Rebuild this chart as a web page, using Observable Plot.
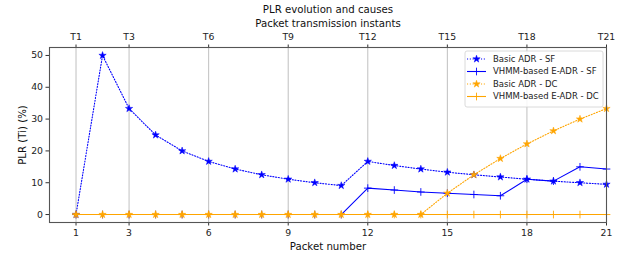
<!DOCTYPE html>
<html>
<head>
<meta charset="utf-8">
<script src="https://cdn.jsdelivr.net/npm/d3@7"></script>
<script src="https://cdn.jsdelivr.net/npm/@observablehq/plot@0.6"></script>
<style>
  html, body { margin: 0; padding: 0; background: #fff; }
  #chart svg { display: block; }
</style>
</head>
<body>
<div id="chart"></div>
<script>
// ---- data ----
const packets = [1,2,3,4,5,6,7,8,9,10,11,12,13,14,15,16,17,18,19,20,21];
const basicSF = [0,50,33.3,25,20,16.7,14.3,12.5,11.1,10,9.1,16.7,15.4,14.3,13.3,12.5,11.8,11.1,10.5,10,9.5];
const vhmmSF  = [0,0,0,0,0,0,0,0,0,0,0,8.3,7.7,7.1,6.7,6.3,5.9,11.1,10.5,15,14.3];
const basicDC = [0,0,0,0,0,0,0,0,0,0,0,0,0,0,6.7,12.5,17.6,22.2,26.3,30,33.3];
const vhmmDC  = [0,0,0,0,0,0,0,0,0,0,0,0,0,0,0,0,0,0,0,0,0];
const xTicks = [1,3,6,9,12,15,18,21];
const topTickLabels = ["T1","T3","T6","T9","T12","T15","T18","T21"];
const yTicks = [0,10,20,30,40,50];
const seriesNames = ["Basic ADR - SF","VHMM-based E-ADR - SF","Basic ADR - DC","VHMM-based E-ADR - DC"];
const seriesColors = ["#0000ff","#0000ff","#ffa500","#ffa500"];
const seriesDotted = [true,false,true,false];
const seriesSymbols = ["star","plus","star","plus"];
const seriesValues = [basicSF, vhmmSF, basicDC, vhmmDC];

const title = "PLR evolution and causes";
const topLabel = "Packet transmission instants";
const xLabel = "Packet number";
const yLabel = "PLR (Ti) (%)";

// ---- build table ----
const series = seriesNames.map((name, i) => ({
  name, color: seriesColors[i], dotted: seriesDotted[i], symbol: seriesSymbols[i],
  data: packets.map((p, j) => ({x: p, y: seriesValues[i][j]}))
}));

const font = "DejaVu Sans";
const dashed = "1.1,1.7";
const starR = 2.3;
const plusR = 2.6;

const marks = [
  Plot.gridX(xTicks, {stroke: "#b0b0b0", strokeOpacity: 1, strokeWidth: 0.8}),
  Plot.axisX(xTicks, {anchor: "bottom", tickSize: 3.5, tickPadding: 3, label: null, fontSize: 9.3, fill: "#222", stroke: "#333"}),
  Plot.axisX(xTicks, {anchor: "top", tickSize: 3.5, tickPadding: 4, label: null, fontSize: 9.3, fill: "#222", stroke: "#333",
    tickFormat: d => topTickLabels[xTicks.indexOf(d)]}),
  Plot.axisY(yTicks, {anchor: "left", tickSize: 3.5, tickPadding: 3, label: null, fontSize: 9.3, fill: "#222", stroke: "#333"}),
];

for (const s of series) {
  marks.push(Plot.line(s.data, {x: "x", y: "y", stroke: s.color, strokeWidth: 1.1,
    strokeDasharray: s.dotted ? dashed : null}));
  if (s.symbol === "star") {
    marks.push(Plot.dot(s.data, {x: "x", y: "y", symbol: "star", r: starR, fill: s.color, stroke: s.color, strokeWidth: 0.5}));
  } else {
    marks.push(Plot.dot(s.data, {x: "x", y: "y", symbol: "plus", r: plusR, stroke: s.color, strokeWidth: 0.9}));
  }
}

marks.push(Plot.frame({stroke: "#555", strokeWidth: 1.1}));
const lbl = {fontSize: 10.2, fill: "#111", text: d => d, lineAnchor: "middle", textAnchor: "middle"};
marks.push(Plot.text([title], {...lbl, frameAnchor: "top", dy: -38}));
marks.push(Plot.text([topLabel], {...lbl, frameAnchor: "top", dy: -24}));
marks.push(Plot.text([xLabel], {...lbl, frameAnchor: "bottom", dy: 24}));
marks.push(Plot.text([yLabel], {...lbl, frameAnchor: "left", dx: -27, rotate: -90}));

const chart = Plot.plot({
  width: 629,
  height: 254,
  marginLeft: 49,
  marginRight: 23,
  marginTop: 47,
  marginBottom: 32,
  style: {fontFamily: font, fontSize: "9.3px", background: "#fff", color: "#222"},
  x: {domain: [0, 21]},
  y: {domain: [-2.5, 52.5]},
  marks
});
document.getElementById("chart").appendChild(chart);

// ---- legend (upper right, inside frame) ----
const svg = d3.select(chart);
const lg = svg.append("g").attr("font-family", font).attr("font-size", 8.5).attr("text-anchor", "start");
lg.append("rect").attr("x", 465).attr("y", 51).attr("width", 138).attr("height", 56)
  .attr("rx", 2).attr("fill", "#fff").attr("fill-opacity", 0.85).attr("stroke", "#d0d0d0").attr("stroke-width", 0.8);
const rowY = [59, 71.5, 84, 96.5];
series.forEach((s, i) => {
  const y = rowY[i];
  lg.append("line").attr("x1", 467).attr("x2", 486).attr("y1", y).attr("y2", y)
    .attr("stroke", s.color).attr("stroke-width", 1.1).attr("stroke-dasharray", s.dotted ? dashed : null);
  const isStar = s.symbol === "star";
  const r = isStar ? starR : plusR;
  const p = lg.append("path").attr("d", d3.symbol(isStar ? d3.symbolStar : d3.symbolPlus, r * r * Math.PI)())
    .attr("transform", `translate(476.5,${y})`);
  if (isStar) p.attr("fill", s.color).attr("stroke", s.color).attr("stroke-width", 0.5);
  else p.attr("fill", "none").attr("stroke", s.color).attr("stroke-width", 0.9);
  lg.append("text").attr("x", 493).attr("y", y).attr("dy", "0.35em").attr("fill", "#222").text(s.name);
});
</script>
</body>
</html>
